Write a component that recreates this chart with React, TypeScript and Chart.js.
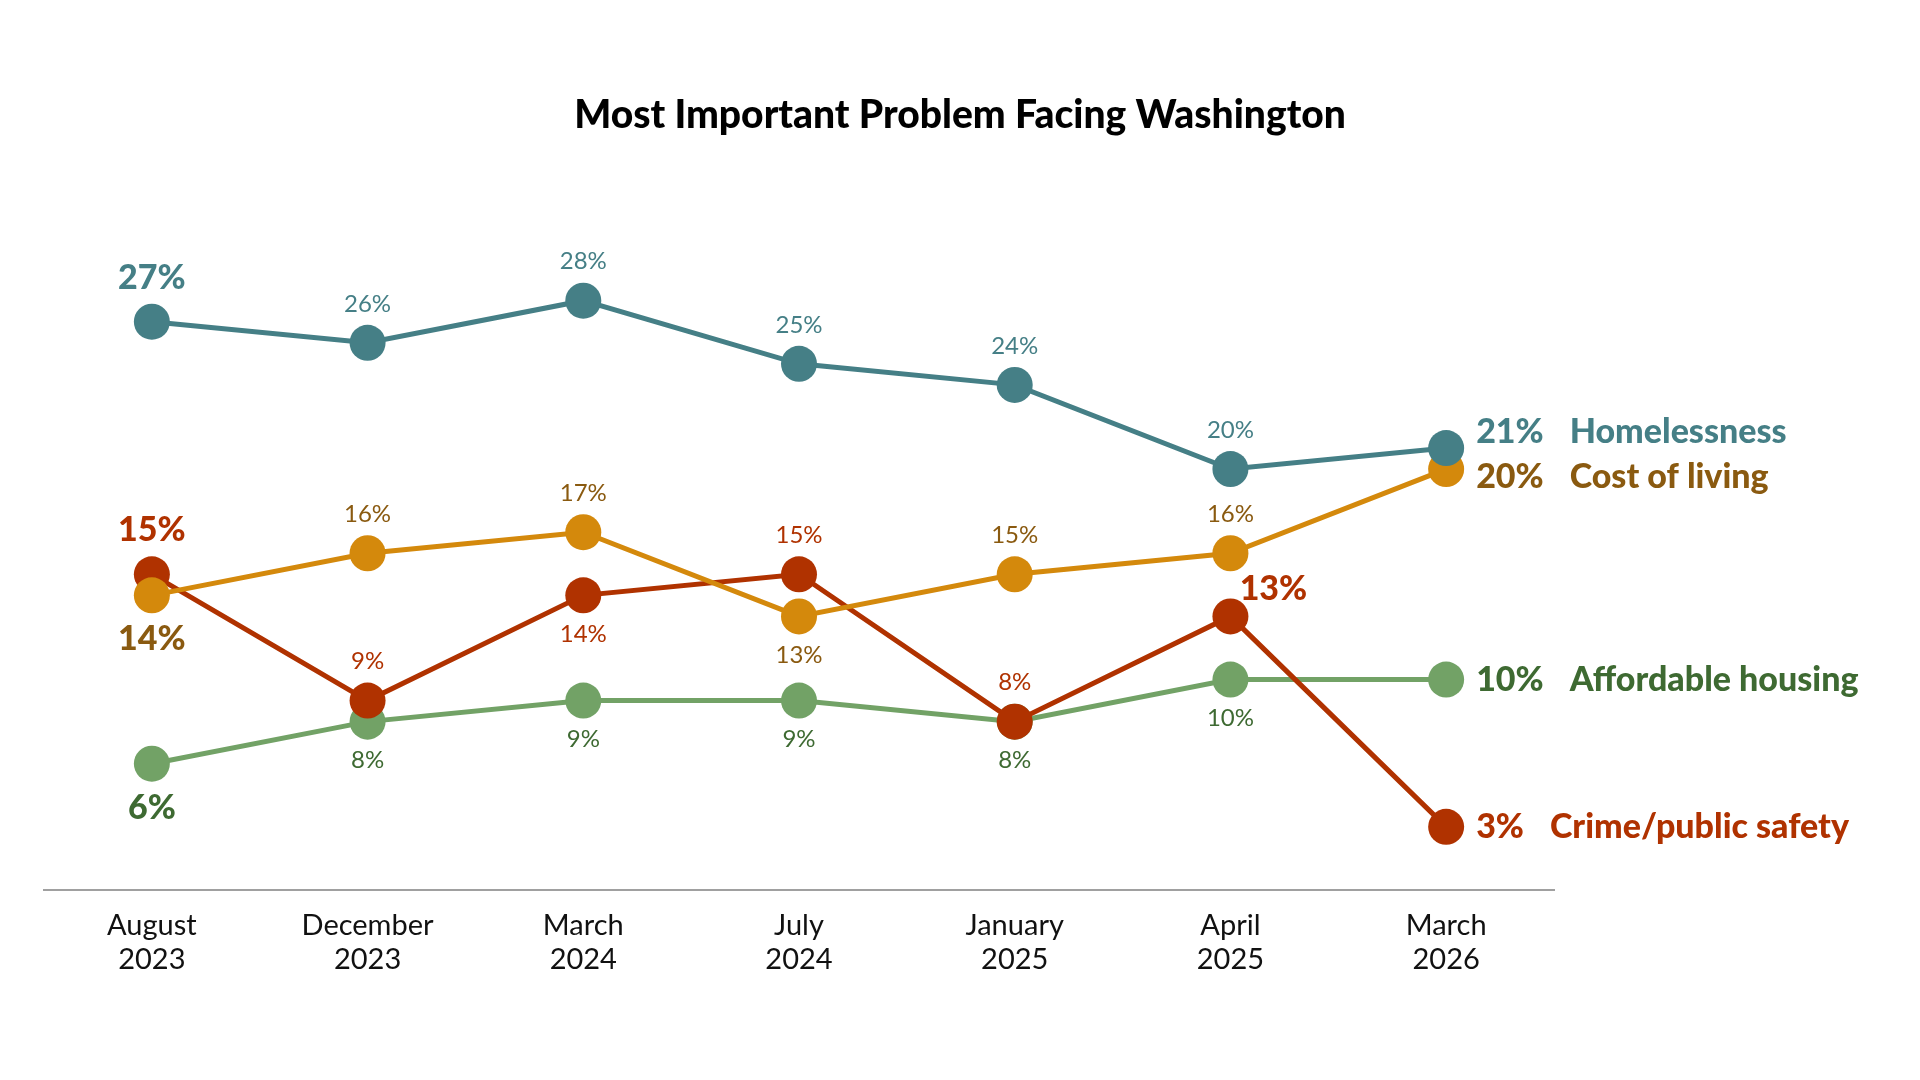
import { useEffect, useRef } from 'react';
import { Chart, registerables } from 'chart.js';

Chart.register(...registerables);

// survey waves
const periods = [
  ['August', '2023'],
  ['December', '2023'],
  ['March', '2024'],
  ['July', '2024'],
  ['January', '2025'],
  ['April', '2025'],
  ['March', '2026'],
];

// share naming each issue, %
const homelessness = [27, 26, 28, 25, 24, 20, 21];
const costOfLiving = [14, 16, 17, 13, 15, 16, 20];
const crimePublicSafety = [15, 9, 14, 15, 8, 13, 3];
const affordableHousing = [6, 8, 9, 9, 8, 10, 10];

const seriesNames = ['Homelessness', 'Cost of living', 'Crime/public safety', 'Affordable housing'];
const chartTitle = 'Most Important Problem Facing Washington';

const FONT = 'Lato, "Noto Sans", sans-serif';

// look of each line and where its value labels go (a = above, b = below, ar = above right)
const seriesStyles = [
  { line: '#457f86', text: '#457f86', place: ['a', 'a', 'a', 'a', 'a', 'a', 'end'], endDy: -16 },
  { line: '#d4890c', text: '#8a5a10', place: ['b', 'a', 'a', 'b', 'a', 'a', 'end'], endDy: 8 },
  { line: '#b03200', text: '#b03200', place: ['a', 'a', 'b', 'a', 'a', 'ar', 'end'], endDy: 0 },
  { line: '#72a266', text: '#3e6a32', place: ['b', 'b', 'b', 'b', 'b', 'b', 'end'], endDy: 0 },
];

const pointLabels = {
  id: 'pointLabels',
  afterDatasetsDraw(chart: any) {
    const ctx = chart.ctx;
    // title, centred on the page rather than on the plot
    ctx.save();
    ctx.fillStyle = '#000';
    ctx.textAlign = 'center';
    ctx.textBaseline = 'middle';
    ctx.font = `900 39px ${FONT}`;
    ctx.fillText(chartTitle, chart.width / 2, 115);
    ctx.restore();

    chart.data.datasets.forEach((ds: any, di: number) => {
      const meta = chart.getDatasetMeta(di);
      const st = seriesStyles[di];
      meta.data.forEach((pt: any, i: number) => {
        const text = ds.data[i] + '%';
        const place = st.place[i];
        const bold = i === 0 || place === 'ar' || place === 'end';
        ctx.save();
        ctx.fillStyle = st.text;
        ctx.textBaseline = 'middle';
        ctx.font = bold ? `900 34px ${FONT}` : `24px ${FONT}`;
        if (place === 'end') {
          ctx.textAlign = 'left';
          const x = pt.x + 30;
          const y = pt.y + st.endDy;
          ctx.fillText(text, x, y);
          const w = ctx.measureText(text).width;
          ctx.fillText(seriesNames[di], x + w + 26, y);
        } else if (place === 'ar') {
          ctx.textAlign = 'center';
          ctx.fillText(text, pt.x + 43, pt.y - 27);
        } else {
          ctx.textAlign = 'center';
          const off = bold ? 44 : 39;
          ctx.fillText(text, pt.x, place === 'a' ? pt.y - off : pt.y + off);
        }
        ctx.restore();
      });
    });
  },
};

export default function App() {
  const canvasRef = useRef<HTMLCanvasElement>(null);
  const chartRef = useRef<Chart | null>(null);

  useEffect(() => {
    if (chartRef.current) chartRef.current.destroy();
    if (!canvasRef.current) return;
    const ctx = canvasRef.current.getContext('2d');
    if (!ctx) return;

    const values = [homelessness, costOfLiving, crimePublicSafety, affordableHousing];

    chartRef.current = new Chart(ctx, {
      type: 'line',
      data: {
        labels: periods,
        datasets: values.map((data, i) => ({
          label: seriesNames[i],
          data,
          borderColor: seriesStyles[i].line,
          backgroundColor: seriesStyles[i].line,
          pointBackgroundColor: seriesStyles[i].line,
          pointBorderWidth: 0,
          pointRadius: 18,
          pointHoverRadius: 18,
          borderWidth: 5,
          tension: 0,
        })),
      },
      options: {
        responsive: false,
        animation: false,
        devicePixelRatio: 1,
        layout: { padding: { left: 44, right: 366, top: 258.6, bottom: 80 } },
        plugins: {
          legend: { display: false },
          tooltip: { enabled: false },
          title: { display: false },
        },
        scales: {
          x: {
            offset: true,
            grid: { display: false, drawTicks: false },
            border: { display: true, color: '#a0a0a0', width: 2 },
            ticks: {
              color: '#111',
              font: { family: FONT, size: 29, lineHeight: 1.16 },
              padding: 19,
              maxRotation: 0,
              autoSkip: false,
            },
            afterFit: (scale: any) => {
              scale.height = 110;
            },
          },
          y: {
            display: false,
            min: 0,
            max: 30,
          },
        },
      },
      plugins: [pointLabels],
    });

    return () => {
      if (chartRef.current) {
        chartRef.current.destroy();
        chartRef.current = null;
      }
    };
  }, []);

  return (
    <div style={{ position: 'absolute', left: 0, top: 0, width: 1920, height: 1080, background: '#fff' }}>
      <canvas ref={canvasRef} width={1920} height={1080} />
    </div>
  );
}
